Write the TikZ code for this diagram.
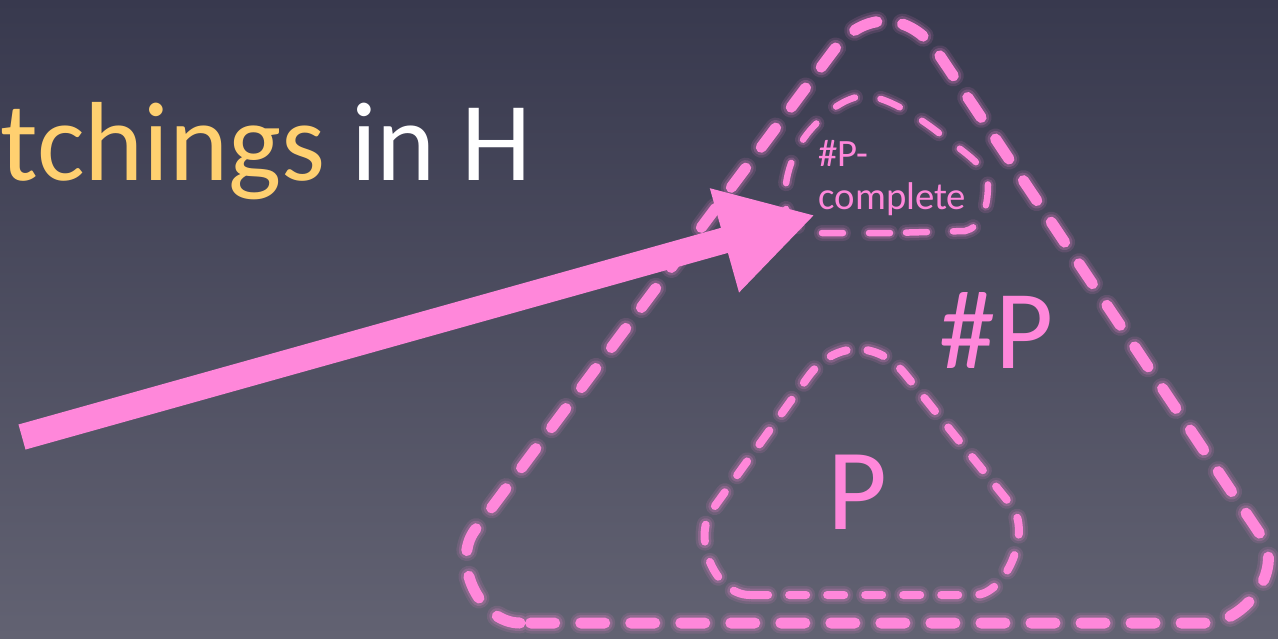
\documentclass[tikz,border=0pt]{standalone}
\usepackage{fontspec}
\setmainfont{Carlito}
\usetikzlibrary{arrows.meta,positioning,calc}
\definecolor{slidetop}{RGB}{56,57,78}
\definecolor{slidebot}{RGB}{98,98,114}
\definecolor{pink}{RGB}{255,135,218}
\definecolor{gold}{RGB}{255,208,112}

\begin{document}
\begin{tikzpicture}[
  x=0.01cm, y=-0.01cm,
  halo/.style={draw=pink, opacity=0.12, line cap=round},
  halo2/.style={draw=pink, opacity=0.2, line cap=round},
  ring/.style={draw=pink, line cap=round},
  outer/.style={dash pattern=on 0.24cm off 0.26cm},
  inner/.style={dash pattern=on 0.17cm off 0.21cm},
  blob/.style={dash pattern=on 0.21cm off 0.26cm},
  lab/.style={text=pink, inner sep=0pt},
  arr/.style={draw=pink, line width=0.26cm, -{Triangle[length=0.94cm, width=1.01cm]}}
]

% slide background
\shade[top color=slidetop, bottom color=slidebot] (0,0) rectangle (1278,638);
\useasboundingbox (0,0) rectangle (1278,638);

% #P triangle
\foreach \w/\s in {0.21cm/halo, 0.16cm/halo2, 0.11cm/ring}
  \path[\s, outer, line width=\w] (520,623)
    .. controls (480,623) and (451,562) .. (475,530) -- (834,50)
    .. controls (864,10) and (910,12) .. (938,53) -- (1262,537)
    .. controls (1284,570) and (1245,623) .. (1205,623) -- cycle;

% P triangle
\foreach \w/\s in {0.18cm/halo, 0.13cm/halo2, 0.08cm/ring}
  \path[\s, inner, line width=\w] (750,595)
    .. controls (715,595) and (692,538) .. (712,510) -- (808,377)
    .. controls (834,341) and (877,340) .. (905,374) -- (1011,505)
    .. controls (1033,532) and (1005,595) .. (975,595) -- cycle;

% #P-complete region
\foreach \w/\s in {0.16cm/halo, 0.11cm/halo2, 0.065cm/ring}
  \path[\s, blob, line width=\w] (890,233) -- (820,233)
    .. controls (795,233) and (783,215) .. (785,195)
    .. controls (786,165) and (800,140) .. (815,125)
    .. controls (830,108) and (850,96) .. (865,96)
    .. controls (885,96) and (915,115) .. (935,130)
    .. controls (960,150) and (988,165) .. (988,185)
    .. controls (988,210) and (980,228) .. (965,231)
    -- cycle;

% labels
\node[anchor=base west, inner sep=0pt, font=\fontsize{32}{36}\selectfont] (title) at (0,180)
  {\textcolor{gold}{tchings} \textcolor{white}{in H}};
\node[lab, font=\fontsize{32}{36}\selectfont] (sharpP) at (997,330) {\#P};
\node[lab, font=\fontsize{33}{36}\selectfont] (polyP) at (857,492) {P};
\node[lab, font=\fontsize{11}{12}\selectfont, align=left, anchor=north west] (complete) at (818,140)
  {\#P-\\complete};

% pointer
\coordinate (tail) at (22,437);
\coordinate (tip) at (815,215);
\draw[arr] (tail) -- (tip);

\end{tikzpicture}
\end{document}
